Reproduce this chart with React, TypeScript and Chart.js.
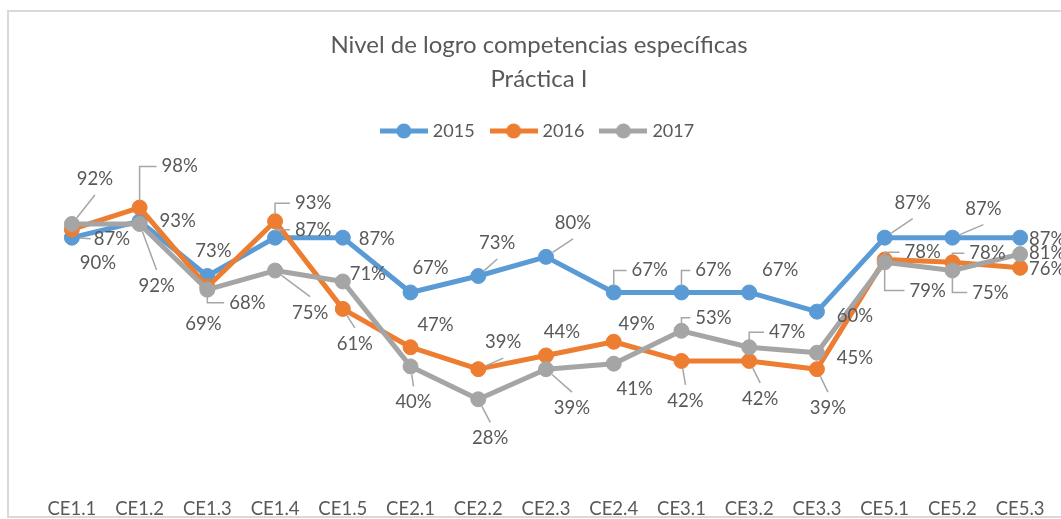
import React, { useEffect, useRef } from "react";
import { Chart, registerables } from "chart.js";

Chart.register(...registerables);

// ---------- data ----------
const categories = [
  "CE1.1", "CE1.2", "CE1.3", "CE1.4", "CE1.5",
  "CE2.1", "CE2.2", "CE2.3", "CE2.4",
  "CE3.1", "CE3.2", "CE3.3",
  "CE5.1", "CE5.2", "CE5.3",
];
const seriesNames = ["2015", "2016", "2017"];
const values2015 = [87, 93, 73, 87, 87, 67, 73, 80, 67, 67, 67, 60, 87, 87, 87];
const values2016 = [90, 98, 69, 93, 61, 47, 39, 44, 49, 42, 42, 39, 79, 78, 76];
const values2017 = [92, 92, 68, 75, 71, 40, 28, 39, 41, 53, 47, 45, 78, 75, 81];
const titleLines = ["Nivel de logro competencias específicas", "Práctica I"];

// ---------- styles ----------
const FONT = "Lato";
const TEXT = "#595959";
const LEADER = "#A6A6A6";
const colors = ["#5B9BD5", "#ED7D31", "#A5A5A5"];
const LABEL_SIZE = 18.5;

// label placement relative to each point: [dx, dy, leader] (n = none, l = straight, e = elbow)
type Place = [number, number, "n" | "l" | "e"];
const place2015: Place[] = [
  [40, 1, "l"], [38, 0, "n"], [6, -25, "n"], [38, -8, "e"], [34, 1, "n"],
  [20, -24, "n"], [19, -33, "l"], [27, -34, "l"], [36, -22, "e"],
  [32, -22, "e"], [31, -22, "n"], [38, 4, "n"],
  [28, -35, "l"], [31, -29, "l"], [27, 1, "n"],
];
const place2016: Place[] = [
  [26, 34, "n"], [40, -41, "e"], [-4, 37, "n"], [38, -18, "e"], [12, 35, "l"],
  [25, -22, "n"], [25, -27, "l"], [16, -23, "n"], [23, -18, "n"],
  [4, 40, "l"], [11, 38, "l"], [11, 39, "l"],
  [43, 31, "e"], [35, -9, "e"], [27, 1, "n"],
];
const place2017: Place[] = [
  [23, -45, "l"], [17, 62, "l"], [40, 13, "e"], [35, 42, "l"], [25, -7, "n"],
  [3, 36, "l"], [12, 39, "l"], [26, 39, "l"], [21, 25, "n"],
  [32, -13, "e"], [38, -15, "e"], [38, 5, "n"],
  [38, -10, "e"], [38, 22, "e"], [27, -1, "n"],
];
const placements = [place2015, place2016, place2017];

function legendImage(color: string): HTMLCanvasElement {
  const c = document.createElement("canvas");
  c.width = 48;
  c.height = 16;
  const g = c.getContext("2d")!;
  g.strokeStyle = color;
  g.lineWidth = 5;
  g.lineCap = "butt";
  g.beginPath();
  g.moveTo(0, 8);
  g.lineTo(48, 8);
  g.stroke();
  g.fillStyle = color;
  g.beginPath();
  g.arc(24, 8, 7.5, 0, Math.PI * 2);
  g.fill();
  return c;
}

const labelPlugin = {
  id: "pctLabels",
  afterDatasetsDraw(chart: any) {
    const ctx: CanvasRenderingContext2D = chart.ctx;
    ctx.save();
    ctx.font = `${LABEL_SIZE}px ${FONT}`;
    ctx.textAlign = "center";
    ctx.textBaseline = "middle";
    chart.data.datasets.forEach((ds: any, di: number) => {
      const meta = chart.getDatasetMeta(di);
      const places = placements[di];
      meta.data.forEach((pt: any, i: number) => {
        const [dx, dy, kind] = places[i];
        const x = pt.x;
        const y = pt.y;
        const lx = x + dx;
        const ly = y + dy;
        const text = `${ds.data[i]}%`;
        const w = ctx.measureText(text).width;
        ctx.strokeStyle = LEADER;
        ctx.lineWidth = 1.5;
        if (kind === "l") {
          let ex: number, ey: number;
          if (Math.abs(dy) > 15) {
            ex = lx;
            ey = dy < 0 ? ly + 16 : ly - 16;
          } else {
            ex = lx - w / 2 - 3;
            ey = ly;
          }
          const vx = ex - x;
          const vy = ey - y;
          const len = Math.hypot(vx, vy);
          if (len > 12) {
            ctx.beginPath();
            ctx.moveTo(x + (vx / len) * 8, y + (vy / len) * 8);
            ctx.lineTo(ex, ey);
            ctx.stroke();
          }
        } else if (kind === "e") {
          const sy = dy < 0 ? y - 7 : y + 7;
          ctx.beginPath();
          ctx.moveTo(x, sy);
          ctx.lineTo(x, ly);
          ctx.lineTo(lx - w / 2 - 5, ly);
          ctx.stroke();
        }
        ctx.fillStyle = TEXT;
        ctx.fillText(text, lx, ly);
      });
    });
    ctx.restore();
  },
};

export default function App() {
  const ref = useRef<HTMLCanvasElement>(null);

  useEffect(() => {
    const allValues = [values2015, values2016, values2017];
    const chart = new Chart(ref.current!, {
      type: "line",
      data: {
        labels: categories,
        datasets: seriesNames.map((name, i) => ({
          label: name,
          data: allValues[i],
          borderColor: colors[i],
          backgroundColor: colors[i],
          pointBackgroundColor: colors[i],
          pointBorderColor: colors[i],
          borderWidth: 5,
          pointRadius: 7.5,
          pointBorderWidth: 1,
          tension: 0,
          borderJoinStyle: "round" as const,
          borderCapStyle: "round" as const,
          order: 3 - i,
        })),
      },
      options: {
        animation: false,
        responsive: false,
        layout: { padding: { left: 15, right: 15, top: 0, bottom: 0 } },
        plugins: {
          title: {
            display: true,
            text: titleLines,
            color: TEXT,
            font: { family: FONT, size: 24, weight: "normal", lineHeight: 34 / 24 },
            padding: { top: 16.5, bottom: 6.5 },
          },
          legend: {
            display: true,
            position: "top",
            labels: {
              usePointStyle: true,
              pointStyleWidth: 40,
              padding: 19,
              color: TEXT,
              font: { family: FONT, size: 18 },
              generateLabels: () =>
                seriesNames.map((name, i) => ({
                  text: name,
                  pointStyle: legendImage(colors[i]),
                  fillStyle: colors[i],
                  strokeStyle: colors[i],
                  fontColor: TEXT,
                  lineWidth: 0,
                  hidden: false,
                  datasetIndex: i,
                })),
            },
          },
          tooltip: { enabled: false },
        },
        scales: {
          x: {
            offset: true,
            grid: { display: false },
            border: { display: false },
            ticks: {
              color: TEXT,
              font: { family: FONT, size: 18.5 },
              padding: 14,
              autoSkip: false,
              maxRotation: 0,
            },
            afterFit: (s: any) => {
              s.height = 40;
            },
          },
          y: {
            display: true,
            min: 0,
            max: 119,
            grid: { display: false },
            border: { display: false },
            ticks: { display: false },
            afterFit: (s: any) => {
              s.width = 14;
            },
          },
        },
      },
      plugins: [labelPlugin],
    } as any);
    return () => chart.destroy();
  }, []);

  return (
    <div
      style={{
        position: "fixed",
        left: 7,
        top: 10,
        width: 1054,
        height: 508,
        overflow: "hidden",
        background: "#fff",
      }}
    >
      <div style={{ width: 1100, height: 504, border: "2px solid #d9d9d9", background: "#fff" }}>
        <canvas ref={ref} width={1060} height={504} style={{ display: "block" }} />
      </div>
    </div>
  );
}
